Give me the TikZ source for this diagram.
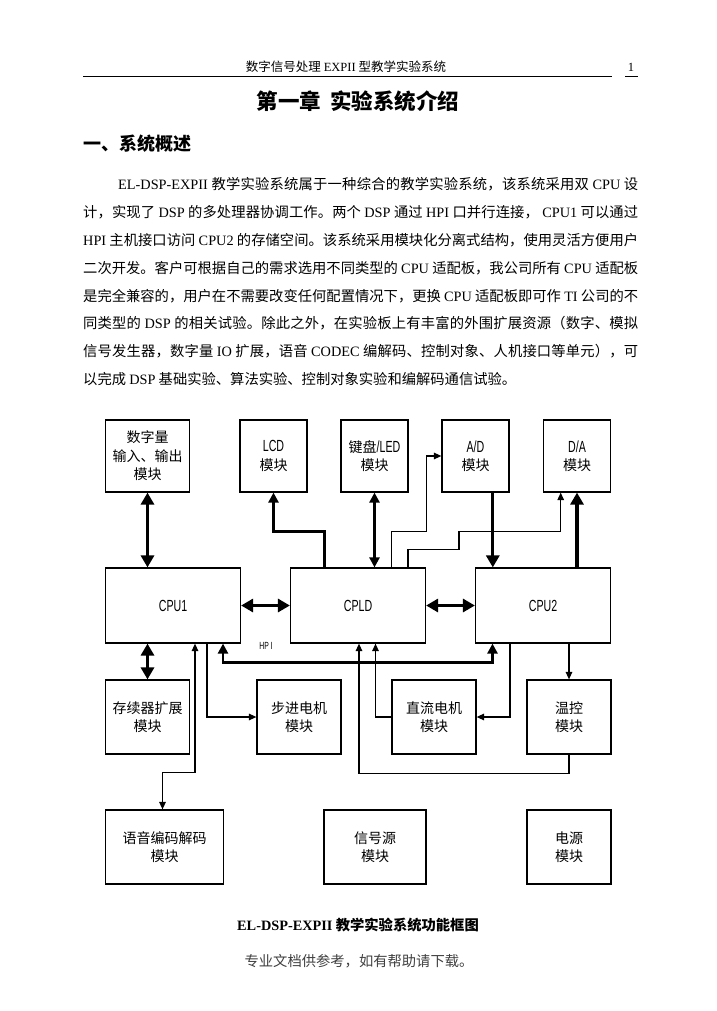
\documentclass[tikz,border=0pt]{standalone}
\usepackage{fontspec}
\setmainfont{Liberation Serif}
\newfontfamily\cjk{Noto Sans CJK SC}
\newfontfamily\narrowfont{Liberation Sans}[FakeStretch=0.66, Scale=1.15]
\usepackage{tikz}
\usetikzlibrary{arrows.meta}
% glue between CJK characters, so that a line can be stretched
\XeTeXinterchartokenstate=1
\newXeTeXintercharclass\cjkcls
\count255="3000 \loop \XeTeXcharclass\count255=\cjkcls \ifnum\count255<"303F \advance\count255 by 1 \repeat
\count255="4E00 \loop \XeTeXcharclass\count255=\cjkcls \ifnum\count255<"9FFF \advance\count255 by 1 \repeat
\count255="FF00 \loop \XeTeXcharclass\count255=\cjkcls \ifnum\count255<"FFEF \advance\count255 by 1 \repeat
\XeTeXinterchartoks\cjkcls\cjkcls={\hskip 0pt plus 1pt\relax}
\newcommand{\tm}[1]{{\rmfamily #1}}
\newcommand{\lat}[1]{{\narrowfont #1}}

\begin{document}
\begin{tikzpicture}[x=1pt, y=-1pt,
    modbox/.style={draw, line width=1.2pt, inner sep=0pt, align=center, font=\cjk\fontsize{14}{18.5}\selectfont},
    txt/.style={inner sep=0pt, font=\cjk\fontsize{14.3}{17}\selectfont},
    bus/.style={line width=3.2pt, >={Triangle[length=12pt, width=13pt]}},
    mid/.style={line width=2.4pt, >={Triangle[length=10pt, width=10pt]}},
    wire/.style={line width=1.3pt, >={Triangle[length=7.5pt, width=6.5pt]}}]
            \fill [white] (0, 0) rectangle (716, 1011);
            \useasboundingbox (0, 0) rectangle (716, 1011);
            % page head
            \node (head) at (346, 67) [inner sep=0pt, font=\cjk\fontsize{12.5}{14}\selectfont] {数字信号处理 \tm{EXPII} 型教学实验系统};
            \node (pagenum) at (631, 67) [inner sep=0pt, font=\fontsize{12.5}{14}\selectfont] {1};
            \draw [line width=1pt] (83, 77) -- (612, 77);
            \draw [line width=1pt] (625, 77) -- (638, 77);
            \node (title) at (358, 101) [inner sep=0pt, font=\cjk\bfseries\fontsize{21.5}{24}\selectfont] {第一章\hspace{0.4em}实验系统介绍};
            \node (sec) at (83, 144) [anchor=west, inner sep=0pt, font=\cjk\bfseries\fontsize{18}{20}\selectfont] {一、系统概述};
            % paragraph
            \node (p1) at (118, 184) [txt, anchor=west] {\makebox[520pt][s]{\tm{EL-DSP-EXPII} 教学实验系统属于一种综合的教学实验系统，该系统采用双 \tm{CPU} 设}};
            \node (p2) at (83, 212) [txt, anchor=west] {\makebox[555pt][s]{计，实现了 \tm{DSP} 的多处理器协调工作。两个 \tm{DSP} 通过 \tm{HPI} 口并行连接， \tm{CPU1} 可以通过}};
            \node (p3) at (83, 240) [txt, anchor=west] {\makebox[555pt][s]{\tm{HPI} 主机接口访问 \tm{CPU2} 的存储空间。该系统采用模块化分离式结构，使用灵活方便用户}};
            \node (p4) at (83, 268) [txt, anchor=west] {\makebox[555pt][s]{二次开发。客户可根据自己的需求选用不同类型的 \tm{CPU} 适配板，我公司所有 \tm{CPU} 适配板}};
            \node (p5) at (83, 296) [txt, anchor=west] {\makebox[555pt][s]{是完全兼容的，用户在不需要改变任何配置情况下，更换 \tm{CPU} 适配板即可作 \tm{TI} 公司的不}};
            \node (p6) at (83, 323) [txt, anchor=west] {\makebox[555pt][s]{同类型的 \tm{DSP} 的相关试验。除此之外，在实验板上有丰富的外围扩展资源（数字、模拟}};
            \node (p7) at (83, 351) [txt, anchor=west] {\makebox[555pt][s]{信号发生器，数字量 \tm{IO} 扩展，语音 \tm{CODEC} 编解码、控制对象、人机接口等单元），可}};
            \node (p8) at (83, 379) [txt, anchor=west] {以完成 \tm{DSP} 基础实验、算法实验、控制对象实验和编解码通信试验。};
            % top row
            \node (dio) at (147.5, 456) [modbox, minimum width=84.5pt, minimum height=72pt] {数字量\\输入、输出\\模块};
            \node (lcd) at (273.5, 456) [modbox, minimum width=67pt, minimum height=72pt] {\lat{LCD}\\模块};
            \node (kbd) at (374.5, 456) [modbox, minimum width=67pt, minimum height=72pt] {键盘\lat{/LED}\\模块};
            \node (adc) at (475.5, 456) [modbox, minimum width=67pt, minimum height=72pt] {\lat{A/D}\\模块};
            \node (dac) at (577, 456) [modbox, minimum width=67pt, minimum height=72pt] {\lat{D/A}\\模块};
            % cpu row
            \node (cpu1) at (173, 605.5) [modbox, minimum width=135pt, minimum height=75pt] {\lat{CPU1}};
            \node (cpld) at (358, 605.5) [modbox, minimum width=135pt, minimum height=75pt] {\lat{CPLD}};
            \node (cpu2) at (543, 605.5) [modbox, minimum width=135pt, minimum height=75pt] {\lat{CPU2}};
            % middle row
            \node (mem) at (147.5, 717) [modbox, minimum width=84.5pt, minimum height=74pt] {存续器扩展\\模块};
            \node (stepper) at (299, 717) [modbox, minimum width=84pt, minimum height=74pt] {步进电机\\模块};
            \node (dcm) at (434, 717) [modbox, minimum width=84pt, minimum height=74pt] {直流电机\\模块};
            \node (temp) at (569, 717) [modbox, minimum width=84pt, minimum height=74pt] {温控\\模块};
            % bottom row
            \node (codec) at (164.5, 847) [modbox, minimum width=118pt, minimum height=74pt] {语音编码解码\\模块};
            \node (sig) at (375, 847) [modbox, minimum width=102pt, minimum height=74pt] {信号源\\模块};
            \node (pwr) at (569, 847) [modbox, minimum width=84pt, minimum height=74pt] {电源\\模块};
            \node (hpi) at (266, 646) [inner sep=0pt, font=\narrowfont\fontsize{9}{11}\selectfont] {HP\,I};
            % taps
            \coordinate (lcdtap) at ([xshift=-33.5pt]cpld.north);
            \coordinate (adtap) at ([xshift=33.7pt]cpld.north);
            \coordinate (datap) at ([xshift=50pt]cpld.north);
            \coordinate (adout) at ([xshift=17.3pt]adc.south);
            \coordinate (dain) at ([xshift=-16.3pt]dac.south);
            \coordinate (codectap) at ([xshift=22pt]cpu1.south);
            \coordinate (steptap) at ([xshift=34pt]cpu1.south);
            \coordinate (hpia) at ([xshift=50pt]cpu1.south);
            \coordinate (hpib) at ([xshift=-50.5pt]cpu2.south);
            \coordinate (dcmtap) at ([xshift=-33pt]cpu2.south);
            \coordinate (dcmin) at ([xshift=17.5pt]cpld.south);
            \coordinate (tempin) at ([xshift=1pt]cpld.south);
            % connectors
            \draw [bus, <->] (dio.south) -- (dio.south |- cpu1.north);
            \draw [mid, ->] (lcdtap) -- ++(0, -36) -| (lcd.south);
            \draw [mid, <->] (kbd.south) -- (kbd.south |- cpld.north);
            \draw [wire, ->] (adtap) -- ++(0, -36) -- ++(34.5, 0) |- (adc.west);
            \draw [wire, ->] (datap) -- ++(0, -18) -- ++(51, 0) -- ++(0, -18) -| (dain);
            \draw [bus, ->] (adout) -- (adout |- cpu2.north);
            \draw [bus, ->] (dac.south |- cpu2.north) -- (dac.south);
            \draw [bus, <->] (cpu1) edge (cpld) (cpld) edge (cpu2);
            \draw [bus, <->] (mem.north) -- (mem.north |- cpu1.south);
            \draw [wire, <->] ([xshift=-2pt]codec.north) -- ++(0, -37) -| (codectap);
            \draw [wire, ->] (steptap) |- (stepper.west);
            \draw [mid, <->] (hpia) -- ++(0, 19) -| (hpib);
            \draw [wire, ->] (dcm.west) -| (dcmin);
            \draw [wire, ->] (dcmtap) |- (dcm.east);
            \draw [wire, ->] (temp.north |- cpu2.south) -- (temp.north);
            \draw [wire, ->] (temp.south) -- ++(0, 19) -| (tempin);
            % caption
            \node (cap) at (358, 925) [txt, font=\cjk\bfseries\fontsize{14.3}{17}\selectfont] {\tm{EL-DSP-EXPII} 教学实验系统功能框图};
            \node (foot) at (359, 961) [txt, text=black!75] {专业文档供参考，如有帮助请下载。};
        \end{tikzpicture}
\end{document}
